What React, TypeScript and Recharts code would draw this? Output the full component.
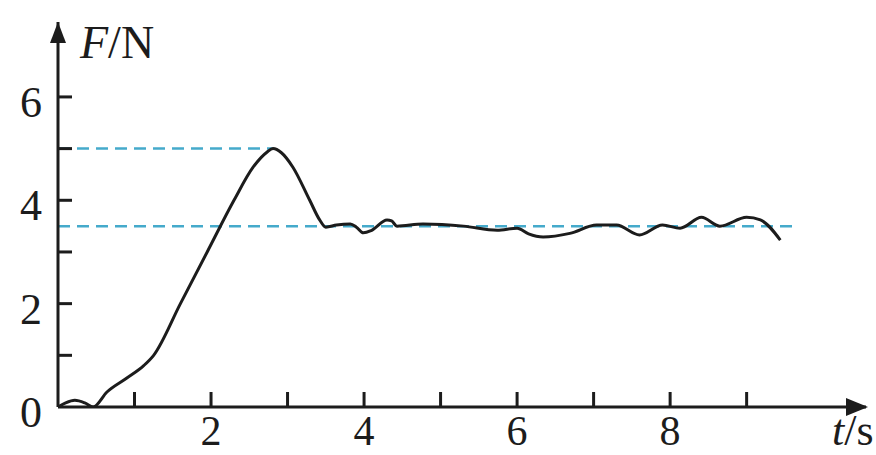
import React from 'react';
import { LineChart, Line, XAxis, YAxis, ReferenceLine, ReferenceDot } from 'recharts';

// force-time curve
const times = [0, 0.1, 0.22, 0.35, 0.46, 0.64, 0.9, 1.12, 1.25, 1.6, 1.95, 2.3, 2.55, 2.73, 2.81, 2.92, 3.07, 3.29, 3.42, 3.5, 3.64, 3.82, 3.9, 3.99, 4.1, 4.3, 4.36, 4.43, 4.77, 5.3, 5.74, 6.0, 6.15, 6.34, 6.69, 7.04, 7.3, 7.6, 7.9, 8.13, 8.41, 8.65, 9.0, 9.18, 9.44];
const forces = [0, 0.08, 0.13, 0.08, 0, 0.29, 0.56, 0.8, 1.0, 2.0, 3.0, 4.0, 4.64, 4.93, 5.0, 4.92, 4.64, 4.0, 3.62, 3.48, 3.52, 3.54, 3.48, 3.37, 3.42, 3.62, 3.6, 3.5, 3.54, 3.5, 3.42, 3.46, 3.35, 3.29, 3.36, 3.52, 3.52, 3.33, 3.52, 3.46, 3.67, 3.5, 3.67, 3.62, 3.23];

const xTicks = [1, 2, 3, 4, 5, 6, 7, 8, 9];
const yTicks = [0, 1, 2, 3, 4, 5, 6];
const xMax = 10.56;
const yMax = 7.45;

// dashed guide lines: peak and steady value
const peakF = 5;
const peakT = 2.81;
const steadyF = 3.5;
const steadyEnd = 9.67;

const data = times.map((t, i) => ({ t, F: forces[i] }));

const INK = '#1c1c1c';
const DASH = '#45aacb';
const FONT = '"Liberation Serif", "DejaVu Serif", serif';

const YTick = (props: any) => {
  const { x, y, payload } = props;
  const v = payload.value;
  return (
    <g>
      {v !== 0 && <line x1={x} x2={x + 14} y1={y} y2={y} stroke={INK} strokeWidth={3} />}
      {v % 2 === 0 && (
        <text x={x - 16} y={y} dy={20} textAnchor="end" fontSize={44} fontFamily={FONT} fill={INK}>
          {v}
        </text>
      )}
    </g>
  );
};

const XTick = (props: any) => {
  const { x, y, payload } = props;
  const v = payload.value;
  return (
    <g>
      <line x1={x} x2={x} y1={y} y2={y - 15} stroke={INK} strokeWidth={3} />
      {v % 2 === 0 && (
        <text x={x} y={y} dy={38} textAnchor="middle" fontSize={42} fontFamily={FONT} fill={INK}>
          {v}
        </text>
      )}
    </g>
  );
};

const XArrow = (props: any) => {
  const { cx, cy } = props;
  return (
    <g>
      <polygon points={`${cx + 2},${cy} ${cx - 20},${cy - 9} ${cx - 20},${cy + 9}`} fill={INK} />
      <text x={cx - 34} y={cy + 38} fontSize={44} fontFamily={FONT} fill={INK}>
        <tspan fontStyle="italic">t</tspan>/s
      </text>
    </g>
  );
};

const YArrow = (props: any) => {
  const { cx, cy } = props;
  return (
    <g>
      <polygon points={`${cx},${cy} ${cx - 8},${cy + 21} ${cx + 8},${cy + 21}`} fill={INK} />
      <text x={cx + 22} y={cy + 36} fontSize={46} fontFamily={FONT} fill={INK}>
        <tspan fontStyle="italic">F</tspan>/N
      </text>
    </g>
  );
};

export default function App() {
  return (
    <div style={{ position: 'absolute', left: 0, top: 0, background: '#fff' }}>
      <LineChart width={876} height={455} data={data} margin={{ top: 22, right: 10, bottom: 0, left: 0 }}>
        <XAxis
          type="number"
          dataKey="t"
          domain={[0, xMax]}
          ticks={xTicks}
          height={48}
          axisLine={{ stroke: INK, strokeWidth: 3 }}
          tickLine={false}
          tickSize={0}
          tickMargin={0}
          tick={<XTick />}
          allowDataOverflow
        />
        <YAxis
          type="number"
          domain={[0, yMax]}
          ticks={yTicks}
          width={58}
          axisLine={{ stroke: INK, strokeWidth: 3 }}
          tickLine={false}
          tickSize={0}
          tickMargin={0}
          tick={<YTick />}
          allowDataOverflow
        />
        <ReferenceLine
          segment={[{ x: 0, y: peakF }, { x: peakT, y: peakF }]}
          stroke={DASH}
          strokeWidth={2.5}
          strokeDasharray="12 7"
        />
        <ReferenceLine
          segment={[{ x: 0, y: steadyF }, { x: steadyEnd, y: steadyF }]}
          stroke={DASH}
          strokeWidth={2.5}
          strokeDasharray="12 7"
        />
        <Line
          type="monotone"
          dataKey="F"
          stroke={INK}
          strokeWidth={3}
          dot={false}
          activeDot={false}
          isAnimationActive={false}
        />
        <ReferenceDot x={xMax} y={0} r={0} ifOverflow="visible" shape={<XArrow />} />
        <ReferenceDot x={0} y={yMax} r={0} ifOverflow="visible" shape={<YArrow />} />
      </LineChart>
    </div>
  );
}
